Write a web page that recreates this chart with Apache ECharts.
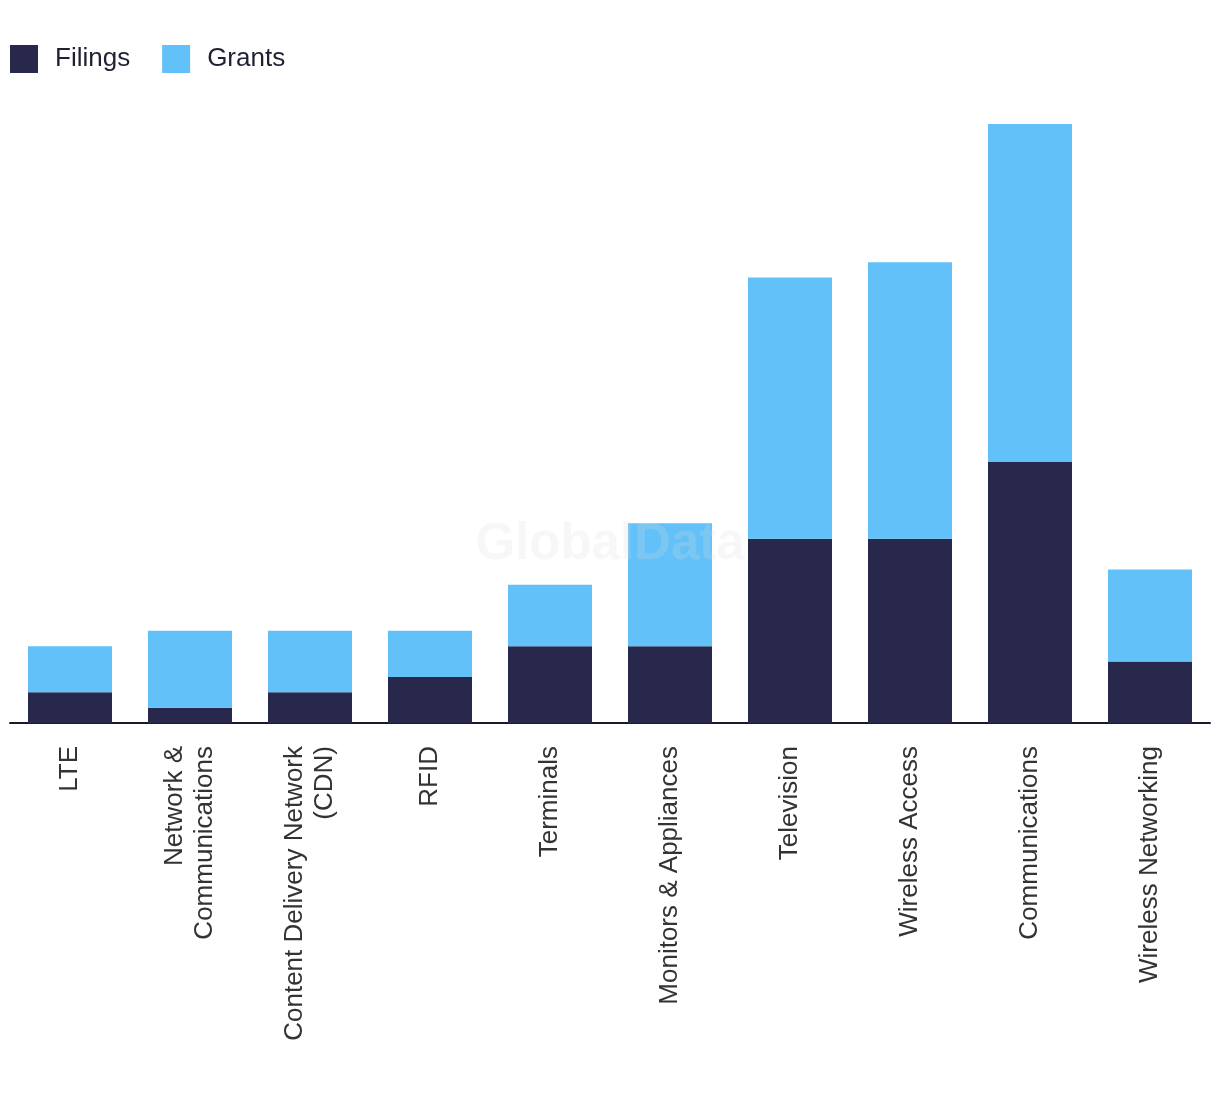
<!DOCTYPE html>
<html>
<head>
<meta charset="utf-8">
<script src="https://cdn.jsdelivr.net/npm/echarts@6/dist/echarts.min.js"></script>
<style>
html,body{margin:0;padding:0;background:#fff;}
#chart{width:1220px;height:1094px;}
</style>
</head>
<body>
<div id="chart"></div>
<script>
const categories = ["LTE", "Network &\nCommunications", "Content Delivery Network\n(CDN)", "RFID", "Terminals", "Monitors & Appliances", "Television", "Wireless Access", "Communications", "Wireless Networking"];
const filings = [2, 1, 2, 3, 5, 5, 12, 12, 17, 4];
const grants = [3, 5, 4, 3, 4, 8, 17, 18, 22, 6];

const chart = echarts.init(document.getElementById('chart'));
chart.setOption({
  animation: false,
  legend: {
    left: 10, top: 45, padding: 0,
    itemWidth: 28, itemHeight: 28, itemGap: 32,
    icon: 'rect',
    textStyle: { fontFamily: 'Liberation Sans', fontSize: 26, color: '#1f2033', padding: [0, 0, 0, 12] },
    data: ['Filings', 'Grants']
  },
  grid: { left: 10, right: 10, top: 124, bottom: 1094 - 723 },
  xAxis: {
    type: 'category',
    data: categories,
    axisLine: { lineStyle: { color: '#1a1a2e', width: 2 } },
    axisTick: { show: false },
    axisLabel: {
      rotate: 90, interval: 0, margin: 23,
      fontFamily: 'Liberation Sans', fontSize: 26, color: '#333333', lineHeight: 30
    }
  },
  yAxis: {
    type: 'value', min: 0, max: 39,
    show: false, splitLine: { show: false }
  },
  series: [
    { name: 'Filings', type: 'bar', stack: 'a', data: filings, barWidth: '70%', itemStyle: { color: '#27284b' } },
    { name: 'Grants', type: 'bar', stack: 'a', data: grants, barWidth: '70%', itemStyle: { color: '#62c1f9' } }
  ],
  graphic: [{
    type: 'text', left: 'center', top: 519, z: 100,
    style: { text: 'GlobalData', fontFamily: 'Liberation Sans', fontWeight: 'bold', fontSize: 51, fill: 'rgba(220,220,220,0.22)' }
  }]
});
</script>
</body>
</html>
